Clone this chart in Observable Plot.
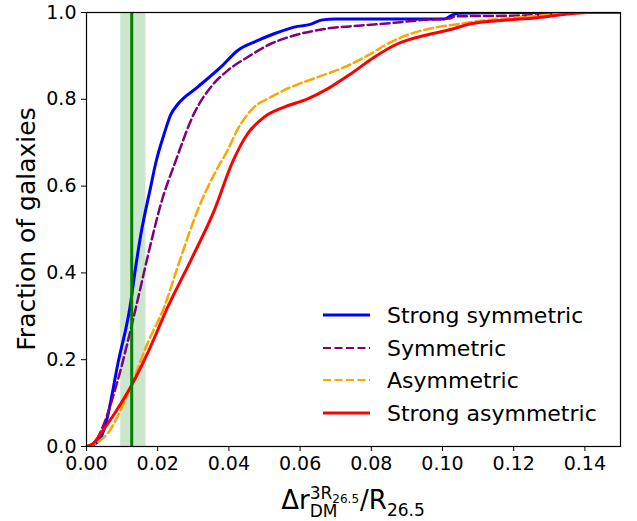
<!DOCTYPE html>
<html>
<head>
<meta charset="utf-8">
<script src="https://cdn.jsdelivr.net/npm/d3@7"></script>
<script src="https://cdn.jsdelivr.net/npm/@observablehq/plot@0.6"></script>
<style>
  html, body { margin: 0; padding: 0; background: #fff; }
  #chart svg { display: block; }
</style>
</head>
<body>
<div id="chart"></div>
<script>
// ---------- data ----------
const seriesNames  = ["Strong symmetric", "Symmetric", "Asymmetric", "Strong asymmetric"];
const seriesColors = ["blue", "purple", "orange", "red"];
const seriesDashed = [false, true, true, false];

const strongSymX = [0, 0.002, 0.004, 0.0054, 0.0089, 0.0125, 0.0134, 0.0153, 0.018, 0.0195, 0.0218, 0.0237, 0.0256, 0.0312, 0.0377, 0.0424, 0.048, 0.0527, 0.0593, 0.0626, 0.0663, 0.07, 0.08, 0.09, 0.1005, 0.1024, 0.1045, 0.12, 0.15];
const strongSymY = [0, 0.004, 0.02, 0.052, 0.194, 0.336, 0.39, 0.49, 0.597, 0.655, 0.72, 0.765, 0.788, 0.828, 0.874, 0.912, 0.935, 0.951, 0.968, 0.972, 0.983, 0.985, 0.985, 0.985, 0.985, 0.993, 0.998, 1.0, 1.0];

const symX = [0, 0.002, 0.0045, 0.0087, 0.0139, 0.0176, 0.0209, 0.0251, 0.0302, 0.0349, 0.0396, 0.0452, 0.0518, 0.0583, 0.0668, 0.0771, 0.0874, 0.0949, 0.1024, 0.1033, 0.122, 0.1333, 0.14, 0.15];
const symY = [0, 0.006, 0.044, 0.15, 0.321, 0.452, 0.559, 0.659, 0.767, 0.828, 0.866, 0.897, 0.928, 0.947, 0.962, 0.97, 0.977, 0.983, 0.987, 0.991, 0.993, 0.997, 1.0, 1.0];

const asymX = [0, 0.002, 0.0059, 0.0124, 0.0171, 0.0218, 0.0265, 0.0312, 0.0359, 0.0396, 0.0424, 0.0471, 0.0518, 0.0574, 0.0649, 0.0724, 0.079, 0.0855, 0.0911, 0.0977, 0.1033, 0.1127, 0.122, 0.1333, 0.14, 0.15];
const asymY = [0, 0.005, 0.03, 0.137, 0.237, 0.321, 0.436, 0.544, 0.628, 0.682, 0.73, 0.782, 0.805, 0.828, 0.851, 0.874, 0.901, 0.932, 0.951, 0.965, 0.972, 0.983, 0.989, 0.997, 1.0, 1.0];

const strongAsymX = [0, 0.002, 0.004, 0.0078, 0.0124, 0.0171, 0.0228, 0.0293, 0.0359, 0.041, 0.0452, 0.0499, 0.0555, 0.0621, 0.0677, 0.0743, 0.0808, 0.0874, 0.0949, 0.1014, 0.108, 0.1173, 0.1267, 0.1361, 0.141, 0.15];
const strongAsymY = [0, 0.008, 0.03, 0.075, 0.137, 0.214, 0.321, 0.429, 0.544, 0.655, 0.72, 0.759, 0.782, 0.801, 0.824, 0.859, 0.897, 0.928, 0.947, 0.959, 0.974, 0.982, 0.988, 0.997, 1.0, 1.0];

const medianX = 0.0127;
const bandLow = 0.0096;
const bandHigh = 0.0167;

const xTicks = [0, 0.02, 0.04, 0.06, 0.08, 0.10, 0.12, 0.14];
const yTicks = [0, 0.2, 0.4, 0.6, 0.8, 1.0];
const yLabel = "Fraction of galaxies";

// ---------- build table ----------
const seriesXs = [strongSymX, symX, asymX, strongAsymX];
const seriesYs = [strongSymY, symY, asymY, strongAsymY];
const rows = [];
seriesNames.forEach((name, i) => {
  seriesXs[i].forEach((x, j) => rows.push({series: name, x, y: seriesYs[i][j]}));
});

const W = 637, H = 521;
const mL = 86, mR = 17, mT = 12, mB = 75;

const lineMarks = seriesNames.map((name, i) =>
  Plot.line(rows.filter(d => d.series === name), {
    x: "x", y: "y",
    stroke: seriesColors[i],
    strokeWidth: seriesDashed[i] ? 2.5 : 3,
    strokeDasharray: seriesDashed[i] ? "9,4" : null,
    curve: "monotone-x",
    clip: true
  })
);

const chart = Plot.plot({
  width: W, height: H,
  marginLeft: mL, marginRight: mR, marginTop: mT, marginBottom: mB,
  x: {domain: [0, 0.15]},
  y: {domain: [0, 1]},
  style: {fontFamily: "'DejaVu Sans', sans-serif", fontSize: "19px", color: "black", background: "white"},
  marks: [
    Plot.rect([{lo: bandLow, hi: bandHigh}], {x1: "lo", x2: "hi", fill: "green", fillOpacity: 0.2}),
    ...lineMarks,
    Plot.ruleX([medianX], {stroke: "green", strokeWidth: 3}),
    Plot.frame({stroke: "black", strokeWidth: 1.2}),
    Plot.axisX({ticks: xTicks, tickFormat: d3.format(".2f"), tickSize: 5, tickPadding: 5, label: null}),
    Plot.axisY({ticks: yTicks, tickFormat: d3.format(".1f"), tickSize: 5, tickPadding: 5, label: null})
  ]
});
document.getElementById("chart").appendChild(chart);

const svg = d3.select(chart);
const FONT = "'DejaVu Sans', sans-serif";

// ---------- y label ----------
svg.append("text")
  .attr("transform", `translate(35,${(mT + (H - mB)) / 2}) rotate(-90)`)
  .attr("text-anchor", "middle")
  .style("font-family", FONT).style("font-size", "25px").attr("fill", "black")
  .text(yLabel);

// ---------- x label: Δr_DM^{3R_26.5} / R_26.5 ----------
const ctx = document.createElement("canvas").getContext("2d");
function w(t, size) { ctx.font = `${size}px 'DejaVu Sans'`; return ctx.measureText(t).width; }
const big = 26, sub = 17, subsub = 12;
const parts = [];
const p1 = "Δr", p2 = "DM", p3 = "3R", p4 = "26.5", p5 = "/R", p6 = "26.5";
const wScript = Math.max(w(p2, sub), w(p3, sub) + w(p4, subsub));
const total = w(p1, big) + wScript + 1 + w(p5, big) + w(p6, sub);
const cx = (mL + (W - mR)) / 2;
let x0 = cx - total / 2;
const base = 509;
parts.push({t: p1, x: x0, y: base, s: big});
const xs = x0 + w(p1, big);
parts.push({t: p2, x: xs, y: base + 8, s: sub});
parts.push({t: p3, x: xs, y: base - 10, s: sub});
parts.push({t: p4, x: xs + w(p3, sub), y: base - 6, s: subsub});
const xr = xs + wScript + 1;
parts.push({t: p5, x: xr, y: base, s: big});
parts.push({t: p6, x: xr + w(p5, big), y: base + 7, s: sub});
const g = svg.append("g").attr("class", "xlabel").attr("text-anchor", "start");
parts.forEach(p => g.append("text").attr("x", p.x).attr("y", p.y).attr("text-anchor", "start")
  .style("font-family", FONT).style("font-size", p.s + "px").attr("fill", "black").text(p.t));

// ---------- legend ----------
const legY = [315, 348, 380, 413];
const leg = svg.append("g").attr("class", "legend").attr("text-anchor", "start");
seriesNames.forEach((name, i) => {
  leg.append("line").attr("x1", 323).attr("x2", 370).attr("y1", legY[i]).attr("y2", legY[i])
    .attr("stroke", seriesColors[i]).attr("stroke-width", seriesDashed[i] ? 2 : 3)
    .attr("stroke-dasharray", seriesDashed[i] ? "8,3.5" : null);
  leg.append("text").attr("x", 387).attr("y", legY[i] + 8).attr("text-anchor", "start")
    .style("font-family", FONT).style("font-size", "22px").attr("fill", "black").text(name);
});
</script>
</body>
</html>
